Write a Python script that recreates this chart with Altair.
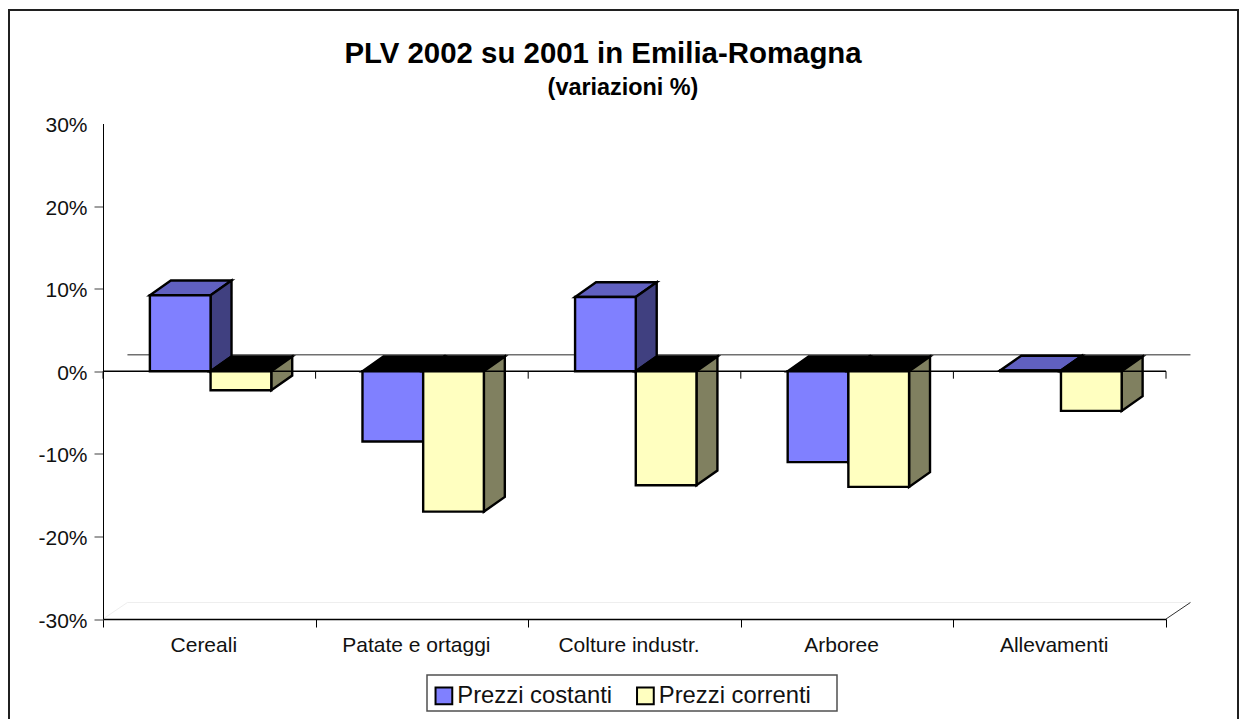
import altair as alt
import pandas as pd

categories = ["Cereali", "Patate e ortaggi", "Colture industr.", "Arboree", "Allevamenti"]
costanti = [9.2, -8.5, 9.0, -11.0, 0.1]
correnti = [-2.3, -17.0, -13.8, -14.0, -4.8]
series_names = ["Prezzi costanti", "Prezzi correnti"]
tick_values = [-30, -20, -10, 0, 10, 20, 30]

front_colors = ["#8080FF", "#FFFFC0"]
side_colors = ["#404080", "#808060"]
top_positive = "#6060C0"

# geometry in data units (x = category index, y = percent)
BAR_W = 0.2855
DX, DY = 0.0985, 1.78
WALL_DX, WALL_DY = 0.115, 2.0
FONT = "Liberation Sans"
EDGE = 2.4

rows, side, top = [], [], []
for s, (name, vals) in enumerate(zip(series_names, [costanti, correnti])):
    for i, v in enumerate(vals):
        x0 = i + 0.5 - 0.2795 + s * BAR_W
        x1 = x0 + BAR_W
        rows.append(dict(serie=name, s=s, x0=x0, x1=x1, y0=0, v=v))
        side.append(dict(s=s, bar=i, x=x1, y=0, y2=v))
        side.append(dict(s=s, bar=i, x=x1 + DX, y=DY, y2=v + DY))
        t = max(v, 0)
        top.append(dict(s=s, bar=i, v=v, y=t, x=x0, x2=x1))
        top.append(dict(s=s, bar=i, v=v, y=t + DY, x=x0 + DX, x2=x1 + DX))
rows, side, top = pd.DataFrame(rows), pd.DataFrame(side), pd.DataFrame(top)

xs = alt.Scale(domain=[0, 5], nice=False, zero=False)
ys = alt.Scale(domain=[-30, 30], nice=False, zero=False)
x_axis = alt.Axis(values=list(range(6)), labels=False, tickSize=8, tickColor="black", tickWidth=1,
                  domainColor="black", domainWidth=1.5, grid=False, zindex=1)
y_axis = alt.Axis(values=tick_values, labelExpr="datum.value + '%'", tickSize=9, tickWidth=1.2,
                  tickColor="#606060", tickOpacity=alt.condition("datum.value == 30", alt.value(0), alt.value(1)),
                  domainColor="black", domainWidth=1, grid=False,
                  labelFont=FONT, labelFontSize=21, labelColor="#111111", labelPadding=7, labelOffset=2, zindex=1)


def fx(field="x"):
    return alt.X(f"{field}:Q", scale=xs, title=None, axis=x_axis)


def fy(field="y"):
    return alt.Y(f"{field}:Q", scale=ys, title=None, axis=y_axis)


one = pd.DataFrame({"a": [0]})
# chart frame, cropped by the page as in the reference
frame = alt.Chart(one).mark_rect(fill="white", stroke="#202020", strokeWidth=2).encode(
    x=alt.value(-94), x2=alt.value(1135), y=alt.value(-113.5), y2=alt.value(700))
legend_box = alt.Chart(one).mark_rect(fill="white", stroke="#505050", strokeWidth=1.5).encode(
    x=alt.value(324), x2=alt.value(734), y=alt.value(551.5), y2=alt.value(587.5))
title_text = alt.Chart(one).mark_text(text="PLV 2002 su 2001 in Emilia-Romagna", font=FONT, fontSize=29.4,
                                      fontWeight="bold", color="black", align="center",
                                      baseline="alphabetic").encode(
    x=alt.value(500), y=alt.value(-60.5))
subtitle_text = alt.Chart(one).mark_text(text="(variazioni %)", font=FONT, fontSize=23.4, fontWeight="bold",
                                         color="black", align="center", baseline="alphabetic").encode(
    x=alt.value(520), y=alt.value(-28.5))

wall_line = alt.Chart(pd.DataFrame({"x": [WALL_DX], "x2": [5 + WALL_DX], "y": [WALL_DY]})).mark_rule(
    color="#707070", strokeWidth=1.5).encode(x=fx(), x2="x2:Q", y=fy())
floor_line = alt.Chart(pd.DataFrame({"x": [WALL_DX], "x2": [5 + WALL_DX], "y": [-30 + WALL_DY]})).mark_rule(
    color="#eeeeee", strokeWidth=1).encode(x=fx(), x2="x2:Q", y=fy())
corner_line = alt.Chart(pd.DataFrame({"x": [5, 5 + WALL_DX], "y": [-30, -30 + WALL_DY]})).mark_line(
    color="#303030", strokeWidth=1).encode(x=fx(), y=fy())
corner_faint = alt.Chart(pd.DataFrame({"x": [0, WALL_DX], "y": [-30, -30 + WALL_DY]})).mark_line(
    color="#eeeeee", strokeWidth=1).encode(x=fx(), y=fy())

layers = [frame, legend_box, title_text, subtitle_text, floor_line, corner_faint, corner_line, wall_line]
for s in range(2):
    tops = alt.Chart(top[top.s == s]).mark_area(orient="horizontal", stroke="black", strokeWidth=EDGE).encode(
        y=fy(), x=fx(), x2="x2:Q", detail="bar:N",
        fill=alt.condition("datum.v >= 0", alt.value(top_positive), alt.value("black")))
    sides = alt.Chart(side[side.s == s]).mark_area(fill=side_colors[s], stroke="black", strokeWidth=EDGE).encode(
        x=fx(), y=fy(), y2="y2:Q", detail="bar:N")
    fronts = alt.Chart(rows[rows.s == s]).mark_rect(stroke="black", strokeWidth=EDGE).encode(
        x=fx("x0"), x2="x1:Q", y=fy("y0"), y2="v:Q",
        fill=alt.Fill("serie:N", scale=alt.Scale(domain=series_names, range=front_colors),
                      legend=alt.Legend(title=None, orient="none", legendX=324, legendY=555,
                                        direction="horizontal", columns=2, padding=5, symbolType="square",
                                        symbolSize=280, symbolStrokeColor="black", symbolStrokeWidth=2,
                                        labelFont=FONT, labelFontSize=23.8, labelColor="#111111",
                                        labelOffset=1.5, columnPadding=19.5, symbolOpacity=1, labelLimit=300)))
    layers += [tops, sides, fronts]

# axis line and ticks at zero, drawn on top of the bars
zero_line = alt.Chart(pd.DataFrame({"x": [0], "x2": [5], "y": [0]})).mark_rule(
    color="black", strokeWidth=1.5).encode(x=fx(), x2="x2:Q", y=fy())
zero_ticks = alt.Chart(pd.DataFrame({"x": list(range(6)), "y": [0] * 6, "y2": [-0.9] * 6})).mark_rule(
    color="black", strokeWidth=1).encode(x=fx(), y=fy(), y2="y2:Q")

lab = pd.DataFrame({"x": [i + 0.5 for i in range(5)], "label": categories, "y": [-30] * 5})
labels = alt.Chart(lab).mark_text(font=FONT, fontSize=21, color="#111111", baseline="middle", dx=-5.5, dy=26.5).encode(
    x=fx(), y=fy(), text="label:N")

layers += [zero_line, zero_ticks, labels]

chart = alt.layer(*layers).properties(
    width=1063, height=495.5,
    padding={"left": 95, "top": 115.5, "right": 73, "bottom": 100},
    autosize=alt.AutoSizeParams(type="none"),
).configure_view(stroke=None)

chart.save("out.html", embed_options={"renderer": "svg", "actions": False})
